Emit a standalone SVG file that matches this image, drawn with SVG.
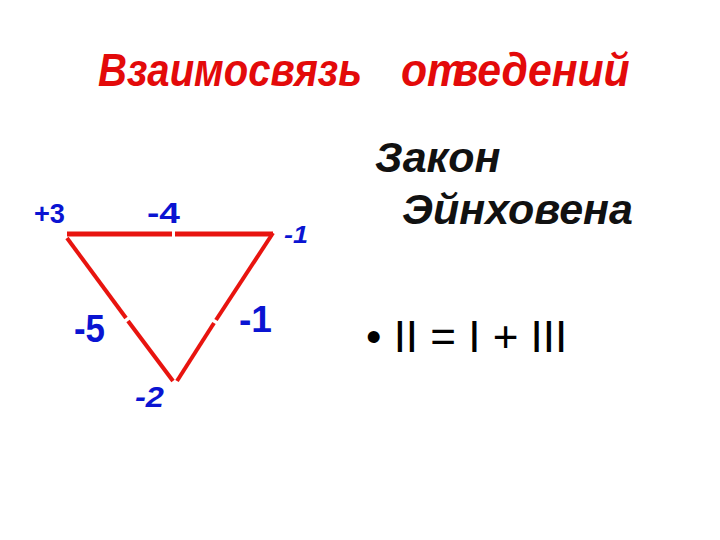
<svg xmlns="http://www.w3.org/2000/svg" width="720" height="540" viewBox="0 0 720 540">
<style>
.title{font-family:"Liberation Sans",Arial,sans-serif;font-weight:bold;font-style:italic;font-size:47px;fill:#e30a0a}
.lbl{font-family:"Liberation Sans",Arial,sans-serif;font-weight:bold;fill:#0a14d2}
.law{font-family:"Liberation Sans",Arial,sans-serif;font-weight:bold;font-style:italic;font-size:43px;fill:#111}
.eq{font-family:"Liberation Sans",Arial,sans-serif;font-size:44px;fill:#000}
.edge{stroke:#e8140f;fill:none;stroke-linecap:butt}
</style>
<rect width="720" height="540" fill="#fff"/>
<g id="title">
<text class="title" x="98" y="86" textLength="264" lengthAdjust="spacingAndGlyphs">Взаимосвязь</text>
<text class="title" transform="translate(401,86) scale(0.91,1)" x="0" y="0">от<tspan dx="-14">ведений</tspan></text>
</g>
<g id="connectors">
<line class="edge" x1="67" y1="234" x2="172" y2="234" stroke-width="5"/>
<line class="edge" x1="175" y1="234" x2="273" y2="234" stroke-width="5"/>
<line class="edge" x1="67" y1="238" x2="126" y2="318" stroke-width="4"/>
<line class="edge" x1="128" y1="321" x2="173" y2="381" stroke-width="4"/>
<line class="edge" x1="273" y1="233" x2="216" y2="320" stroke-width="4"/>
<line class="edge" x1="214" y1="323" x2="177" y2="381" stroke-width="4"/>
</g>
<g id="vertex-top-left"><text class="lbl" x="34" y="223" font-size="28" textLength="31" lengthAdjust="spacingAndGlyphs">+3</text></g>
<g id="vertex-top-right"><text class="lbl" x="284" y="243" font-size="24" font-style="italic" textLength="24" lengthAdjust="spacingAndGlyphs">-1</text></g>
<g id="vertex-bottom"><text class="lbl" x="135" y="407" font-size="29" font-style="italic" textLength="29" lengthAdjust="spacingAndGlyphs">-2</text></g>
<g id="edge-top-label"><text class="lbl" x="147" y="223" font-size="30" textLength="33" lengthAdjust="spacingAndGlyphs">-4</text></g>
<g id="edge-left-label"><text class="lbl" x="74" y="342" font-size="38" textLength="31" lengthAdjust="spacingAndGlyphs">-5</text></g>
<g id="edge-right-label"><text class="lbl" x="239" y="332" font-size="37" textLength="33" lengthAdjust="spacingAndGlyphs">-1</text></g>
<g id="law">
<text class="law" x="375" y="172">Закон</text>
<text class="law" x="402" y="224">Эйнховена</text>
<text class="eq" x="366" y="352">• II = I + III</text>
</g>
</svg>
